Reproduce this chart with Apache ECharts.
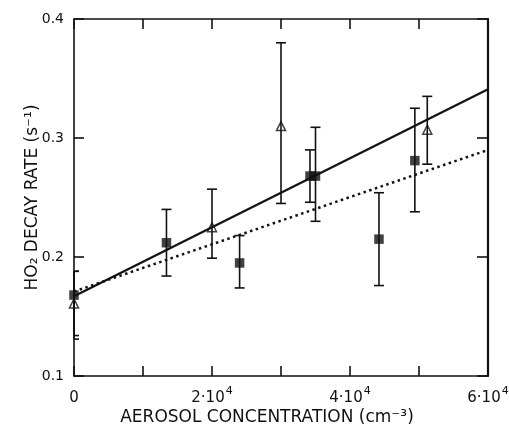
<!DOCTYPE html>
<html>
<head>
<meta charset="utf-8">
<script src="https://cdn.jsdelivr.net/npm/echarts@6/dist/echarts.min.js"></script>
<style>
html,body{margin:0;padding:0;background:#fff;}
#chart{width:509px;height:425px;}
</style>
</head>
<body>
<div id="chart"></div>
<script>
// Squares (filled)
const squareX    = [0, 13400, 24000, 34200, 35000, 44200, 49400];
const squareY    = [0.168, 0.212, 0.195, 0.268, 0.268, 0.215, 0.281];
const squareLow  = [0.134, 0.184, 0.174, 0.246, 0.230, 0.176, 0.238];
const squareHigh = [0.188, 0.240, 0.218, 0.290, 0.309, 0.254, 0.325];
// Triangles (open)
const triX    = [0, 20000, 30000, 51200];
const triY    = [0.161, 0.225, 0.310, 0.307];
const triLow  = [0.131, 0.199, 0.245, 0.278];
const triHigh = [0.188, 0.257, 0.380, 0.335];
// Fit lines
const solidLine  = [[0, 0.167], [60000, 0.341]];
const dottedLine = [[0, 0.171], [60000, 0.290]];
// Axis ticks / labels
const xTickLabels = {0: ['0', ''], 20000: ['2·10', '4'], 40000: ['4·10', '4'], 60000: ['6·10', '4']};
const yTickLabels = {0.1: '0.1', 0.2: '0.2', 0.3: '0.3', 0.4: '0.4'};

const FONT = 'DejaVu Sans';
const INK = '#111';

function errData(xs, lo, hi) {
  return xs.map((x, i) => [x, lo[i], hi[i]]);
}
function renderErr(params, api) {
  const x = api.value(0), lo = api.value(1), hi = api.value(2);
  const a = api.coord([x, lo]);
  const b = api.coord([x, hi]);
  const cs = params.coordSys;
  const hw = 5;
  const left = Math.max(a[0] - hw, cs.x);
  const right = Math.min(a[0] + hw, cs.x + cs.width);
  const st = {stroke: INK, lineWidth: 1.6};
  return {type: 'group', children: [
    {type: 'line', shape: {x1: a[0], y1: a[1], x2: b[0], y2: b[1]}, style: st},
    {type: 'line', shape: {x1: left, y1: a[1], x2: right, y2: a[1]}, style: st},
    {type: 'line', shape: {x1: left, y1: b[1], x2: right, y2: b[1]}, style: st}
  ]};
}

const chart = echarts.init(document.getElementById('chart'), null, {renderer: 'canvas'});
const axisLineStyle = {color: INK, width: 1.6};
chart.setOption({
  backgroundColor: '#fff',
  animation: false,
  grid: {left: 74, right: 21, top: 19, bottom: 49, containLabel: false, outerBoundsMode: 'none'},
  xAxis: [{
    type: 'value', position: 'bottom', min: 0, max: 60000, interval: 10000,
    axisLine: {show: true, onZero: false, lineStyle: axisLineStyle},
    axisTick: {show: true, inside: true, length: 10, lineStyle: {color: INK, width: 1.6}},
    splitLine: {show: false},
    axisLabel: {
      margin: 10, color: INK, fontFamily: FONT, fontSize: 15,
      formatter: v => {
        const t = xTickLabels[v];
        if (!t) return '';
        return t[1] ? '{b|' + t[0] + '}{s|' + t[1] + '}' : '{b|' + t[0] + '}';
      },
      rich: {
        b: {fontFamily: FONT, fontSize: 15, color: INK, lineHeight: 20, verticalAlign: 'bottom'},
        s: {fontFamily: FONT, fontSize: 11, color: INK, lineHeight: 20, verticalAlign: 'top', padding: [0, 0, 6, 1]}
      }
    },
    name: 'AEROSOL CONCENTRATION (cm⁻³)', nameLocation: 'middle', nameGap: 33,
    nameMoveOverlap: false,
    nameTextStyle: {color: INK, fontFamily: FONT, fontSize: 17, padding: [0, 28, 0, 0]}
  }, {
    type: 'value', position: 'top', min: 0, max: 60000, interval: 10000,
    axisLine: {show: true, onZero: false, lineStyle: axisLineStyle},
    axisTick: {show: true, inside: true, length: 10, lineStyle: {color: INK, width: 1.6}},
    splitLine: {show: false}, axisLabel: {show: false}
  }],
  yAxis: [{
    type: 'value', position: 'left', min: 0.1, max: 0.4, interval: 0.1,
    axisLine: {show: true, onZero: false, lineStyle: axisLineStyle},
    axisTick: {show: true, inside: true, length: 10, lineStyle: {color: INK, width: 1.6}},
    splitLine: {show: false},
    axisLabel: {
      margin: 10, color: INK, fontFamily: FONT, fontSize: 14,
      formatter: v => { const k = Math.round(v * 10) / 10; return yTickLabels[k] || ''; }
    },
    name: 'HO₂ DECAY RATE (s⁻¹)', nameLocation: 'middle', nameGap: 33, nameRotate: 90,
    nameMoveOverlap: false,
    nameTextStyle: {color: INK, fontFamily: FONT, fontSize: 17}
  }, {
    type: 'value', position: 'right', min: 0.1, max: 0.4, interval: 0.1,
    axisLine: {show: true, onZero: false, lineStyle: {color: INK, width: 2.2}},
    axisTick: {show: true, inside: true, length: 11, lineStyle: {color: INK, width: 1.6}},
    splitLine: {show: false}, axisLabel: {show: false}
  }],
  series: [
    {
      type: 'line', data: solidLine, symbol: 'none', silent: true,
      lineStyle: {color: INK, width: 2.2, type: 'solid'}, z: 3
    },
    {
      type: 'line', data: dottedLine, symbol: 'none', silent: true,
      lineStyle: {color: INK, width: 2.5, type: [2.5, 3.5]}, z: 3
    },
    {
      type: 'custom', renderItem: renderErr, data: errData(squareX, squareLow, squareHigh),
      encode: {x: 0, y: [1, 2]}, z: 4
    },
    {
      type: 'custom', renderItem: renderErr, data: errData(triX, triLow, triHigh),
      encode: {x: 0, y: [1, 2]}, z: 4
    },
    {
      type: 'scatter', data: squareX.map((x, i) => [x, squareY[i]]),
      symbol: 'rect', symbolSize: 9.5, itemStyle: {color: INK}, z: 5, clip: false
    },
    {
      type: 'scatter', data: triX.map((x, i) => [x, triY[i]]),
      symbol: 'triangle', symbolSize: 9,
      itemStyle: {color: 'rgba(0,0,0,0)', borderColor: INK, borderWidth: 1.5}, z: 5, clip: false
    }
  ]
});
</script>
</body>
</html>
